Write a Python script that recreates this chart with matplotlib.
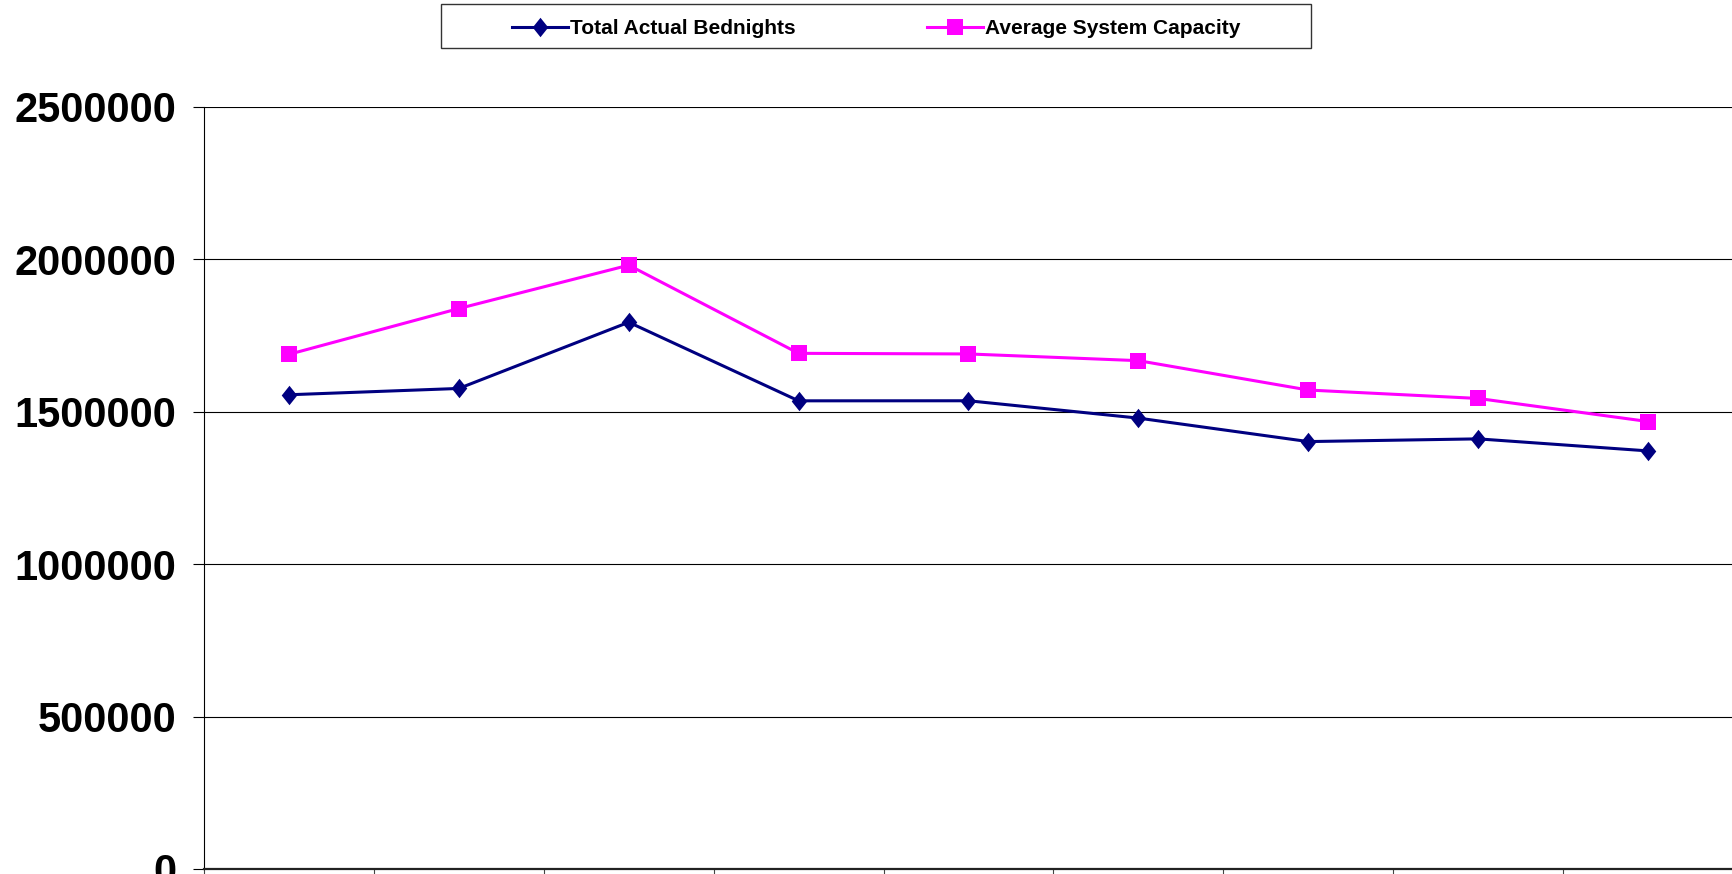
import matplotlib
matplotlib.use("Agg")
import matplotlib.pyplot as plt
from matplotlib.patches import Rectangle
from matplotlib.path import Path

plt.rcParams['font.family'] = ['Liberation Sans', 'DejaVu Sans']
plt.rcParams['font.weight'] = 'bold'

# data (9 periods, x labels are cut off in the original)
periods = list(range(9))
bednights = [1555900, 1576600, 1793800, 1536000, 1536200, 1479300, 1402300, 1411200, 1371700]
capacity = [1688500, 1838800, 1981000, 1691800, 1689800, 1667800, 1571400, 1543800, 1468100]
yticks = [0, 500000, 1000000, 1500000, 2000000, 2500000]

W, H = 1733, 874
fig = plt.figure(figsize=(W / 100, H / 100), dpi=100)
fig.patch.set_facecolor('white')

# axes: left spine at x=204px, top gridline at y=107px, x axis at y=869px
ax = fig.add_axes([204 / W, 5 / H, 1 - 204 / W, (869 - 107) / H])

x = [p + 0.5 for p in periods]

# tall diamond marker
diamond = Path([(0, 1), (0.8, 0), (0, -1), (-0.8, 0), (0, 1)],
               [Path.MOVETO, Path.LINETO, Path.LINETO, Path.LINETO, Path.CLOSEPOLY])

ax.plot(x, bednights, color='#000080', lw=2.2, marker=diamond, markersize=14,
        markeredgewidth=0, label='Total Actual Bednights', zorder=3)
ax.plot(x, capacity, color='#FF00FF', lw=2.2, marker='s', markersize=11.5,
        markeredgewidth=0, label='Average System Capacity', zorder=3)

ax.set_xlim(0, 9)
ax.set_ylim(0, 2500000)
ax.set_yticks(yticks)
ax.set_yticklabels([str(v) for v in yticks], fontsize=30, fontweight='bold')
ax.set_xticks(range(10))
ax.set_xticklabels([])

ax.yaxis.grid(True, color='black', lw=0.8)
ax.set_axisbelow(True)

for s in ['top', 'right']:
    ax.spines[s].set_visible(False)
ax.spines['left'].set_color('black')
ax.spines['left'].set_linewidth(0.8)
ax.spines['bottom'].set_color('#222222')
ax.spines['bottom'].set_linewidth(1.6)

ax.tick_params(axis='y', direction='out', length=8, width=0.8, pad=12, colors='black')
ax.tick_params(axis='x', direction='out', length=8, width=0.8, colors='#444444')

# legend box
fig.patches.append(Rectangle((441 / W, 1 - 48 / H), 870 / W, 44 / H,
                             transform=fig.transFigure, facecolor='white',
                             edgecolor='#333333', lw=1.0))
leg = fig.legend(loc='center', bbox_to_anchor=(876 / W, 1 - 28.5 / H), ncol=2,
                 frameon=False, handlelength=2.7, handletextpad=0.1,
                 columnspacing=6.3, prop={'weight': 'bold', 'size': 15})

fig.savefig('out.png', dpi=100)
